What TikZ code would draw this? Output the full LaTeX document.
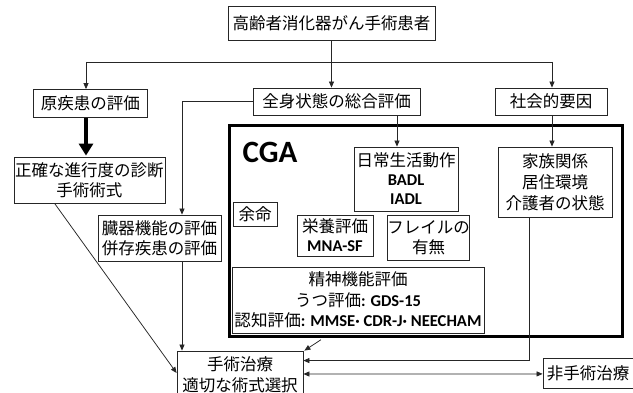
\documentclass[tikz,border=0pt]{standalone}
\usepackage{fontspec}
\usetikzlibrary{arrows.meta,calc}
\newfontfamily\jpfont{Noto Sans CJK JP}
\newfontfamily\latfont{Carlito}
\newcommand\jpf{\fontsize{16.5}{20}\selectfont\jpfont}
\newcommand\lb[1]{{\latfont\bfseries\fontsize{16.5}{20}\selectfont #1}}
\begin{document}
\begin{tikzpicture}[x=1pt,y=-1pt,
  box/.style={draw=black!85, line width=0.8pt, inner sep=0pt, align=center, font=\jpf, fill=white},
  conn/.style={draw=black!85, line width=0.75pt},
  arr/.style={conn, -{Triangle[length=6pt,width=5pt]}},
  darr/.style={conn, {Triangle[length=6pt,width=5pt]}-{Triangle[length=6pt,width=5pt]}},
  bigarr/.style={draw=black, line width=4.5pt, -{Triangle[length=12pt,width=14pt]}}]
\clip (0,0) rectangle (633,393);
\fill[white] (0,0) rectangle (633,393);
% CGA frame
\node[draw=black, line width=3.5pt, minimum width=393pt, minimum height=211pt, inner sep=0pt] (cga) at (426,231) {};
\node[font=\latfont\bfseries\fontsize{31}{31}\selectfont, inner sep=0pt] (cgalabel) at (270,152) {CGA};
% boxes
\node[box, minimum width=207pt, minimum height=34pt] (top) at (331.5,23.5) {高齢者消化器がん手術患者};
\node[box, minimum width=114pt, minimum height=28pt] (yuan) at (90.5,103.5) {原疾患の評価};
\node[box, minimum width=167pt, minimum height=27pt] (zen) at (336.5,101.5) {全身状態の総合評価};
\node[box, minimum width=112pt, minimum height=27pt] (sha) at (551,101.5) {社会的要因};
\node[box, minimum width=151pt, minimum height=46pt] (sei) at (89.5,180) {正確な進行度の診断\\手術術式};
\node[box, minimum width=123pt, minimum height=46pt] (zou) at (159.5,238) {臓器機能の評価\\併存疾患の評価};
\node[box, minimum width=104pt, minimum height=64pt, font=\fontsize{16.5}{19}\selectfont\jpfont] (nichi) at (406,179) {日常生活動作\\\lb{BADL}\\\lb{IADL}};
\node[box, minimum width=114pt, minimum height=70pt, font=\fontsize{16.5}{21}\selectfont\jpfont] (kazoku) at (555,182) {家族関係\\居住環境\\介護者の状態};
\node[box, minimum width=44pt, minimum height=24pt] (yomei) at (255,214) {余命};
\node[box, minimum width=76pt, minimum height=41pt, font=\fontsize{16.5}{19}\selectfont\jpfont] (eiyo) at (335,235.5) {栄養評価\\\lb{MNA-SF}};
\node[box, minimum width=77pt, minimum height=45pt] (frail) at (428.5,237.5) {フレイルの\\有無};
\node[box, minimum width=252pt, minimum height=66pt, font=\fontsize{16.5}{20.5}\selectfont\jpfont] (seishin) at (358,300) {精神機能評価\\うつ評価\lb{: GDS-15}\\\resizebox{247pt}{!}{認知評価\lb{: MMSE· CDR-J· NEECHAM}}};
\node[box, minimum width=126pt, minimum height=49pt, text depth=0pt] (shujutsu) at (240,375.5) {\raisebox{3pt}{手術治療}\\\raisebox{2pt}{適切な術式選択}};
\node[box, minimum width=102pt, minimum height=30pt] (hishu) at (594,373) {\hspace*{-12pt}非手術治療};
% coordinates
\coordinate (hlL) at (86,62);
\coordinate (hlR) at (552,62);
\coordinate (zl) at (182,101.5);
\coordinate (zx) at (397,0);
% connectors
\draw[conn] (hlL) -- (hlR);
\draw[arr] (hlL) -- (hlL |- yuan.north);
\draw[arr] (hlR) -- (hlR |- sha.north);
\draw[arr] (top.south) -- (top.south |- zen.north);
\draw[bigarr] (hlL |- yuan.south) -- ($(hlL |- sei.north)+(0,-1)$);
\draw[arr] (zen.west) -- (zl) -- (zl |- zou.north);
\draw[arr] (zen.south -| zx) -- (nichi.north -| zx);
\draw[arr] (hlR |- sha.south) -- (hlR |- kazoku.north);
\draw[arr] ($(sei.south west)!0.27!(sei.south east)$) -- ($(shujutsu.north west)!0.45!(shujutsu.south west)$);
\draw[arr] (zou.south -| zl) -- (shujutsu.north -| zl);
\draw[arr] ($(cga.south west)!0.235!(cga.south east)+(0,1.5)$) -- ($(shujutsu.north east)+(1,0)$);
\draw[arr] ($(kazoku.south west)!0.28!(kazoku.south east)$) |- ($(shujutsu.north east)!0.2!(shujutsu.south east)$);
\draw[darr] ($(shujutsu.north east)!0.47!(shujutsu.south east)$) -- ($(hishu.north west)!0.53!(hishu.south west)$);
\end{tikzpicture}
\end{document}
